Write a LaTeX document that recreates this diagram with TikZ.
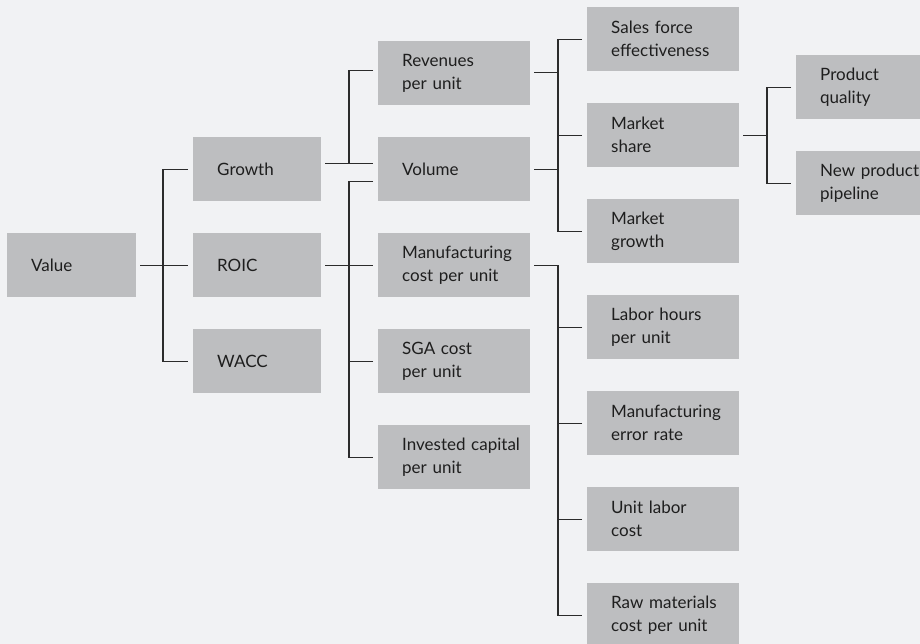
\documentclass[tikz,border=0pt]{standalone}
\usepackage{fontspec}
\setmainfont{Lato}
\definecolor{bg}{HTML}{F1F2F4}
\definecolor{boxgray}{HTML}{BDBEC0}
\definecolor{ink}{HTML}{1E1E1E}
\definecolor{linecol}{HTML}{2B2B2B}
\newcommand\lnx[1]{\mbox{#1}}
\begin{document}
\begin{tikzpicture}[x=1pt,y=-1pt,
  bx/.style={fill=boxgray, draw=none, anchor=north west, minimum height=64pt,
    inner xsep=24pt, inner ysep=0pt, align=left, text=ink,
    font=\fontsize{17}{23}\selectfont},
  bxs/.style={bx, text width=80pt},
  bxl/.style={bx, text width=104pt},
  conn/.style={draw=linecol, line width=1.3pt}]
\fill[bg] (0,0) rectangle (920,644);
\useasboundingbox (0,0) rectangle (920,644);
% level 0/1
\node[bx, text width=81pt] (value) at (7,233) {Value};
\node[bxs] (growth) at (193,137) {Growth};
\node[bxs] (roic) at (193,233) {ROIC};
\node[bxs] (wacc) at (193,329) {WACC};
% level 2
\node[bxl] (rev) at (378,41) {\lnx{Revenues}\\\lnx{per unit}};
\node[bxl] (vol) at (378,137) {Volume};
\node[bxl] (mfg) at (378,233) {\lnx{Manufacturing}\\\lnx{cost per unit}};
\node[bxl] (sga) at (378,329) {\lnx{SGA cost}\\\lnx{per unit}};
\node[bxl] (inv) at (378,425) {\lnx{Invested capital}\\\lnx{per unit}};
% level 3
\node[bxl] (sales) at (587,7) {\lnx{Sales force}\\\lnx{effectiveness}};
\node[bxl] (mshare) at (587,103) {\lnx{Market}\\\lnx{share}};
\node[bxl] (mgrowth) at (587,199) {\lnx{Market}\\\lnx{growth}};
\node[bxl] (labor) at (587,295) {\lnx{Labor hours}\\\lnx{per unit}};
\node[bxl] (mfgerr) at (587,391) {\lnx{Manufacturing}\\\lnx{error rate}};
\node[bxl] (unitlabor) at (587,487) {\lnx{Unit labor}\\\lnx{cost}};
\node[bxl] (raw) at (587,583) {\lnx{Raw materials}\\\lnx{cost per unit}};
% level 4
\node[bxl] (pq) at (796,55) {\lnx{Product}\\\lnx{quality}};
\node[bxl] (npp) at (796,151) {\lnx{New product}\\\lnx{pipeline}};
% connectors: value
\draw[conn] ([xshift=4pt]value.east) -- ([xshift=-5pt]roic.west);
\draw[conn] ([xshift=-5pt]growth.west) -- ++(-25,0) |- ([xshift=-5pt]wacc.west);
% growth
\draw[conn] ([shift={(4,-6)}]growth.east) -- ([shift={(-5,-6)}]vol.west);
\draw[conn] ([shift={(-5,-3)}]rev.west) -- ++(-24,0) -- ++(0,93);
% roic
\draw[conn] ([xshift=4pt]roic.east) -- ([xshift=-5pt]mfg.west);
\draw[conn] ([shift={(-5,12)}]vol.west) -- ++(-24,0) |- ([xshift=-5pt]inv.west);
\draw[conn] ([xshift=-5pt]sga.west) -- ++(-24,0);
% revenues & volume
\draw[conn] ([shift={(4,-1)}]rev.east) -- ++(24,0);
\draw[conn] ([xshift=4pt]vol.east) -- ++(24,0);
\draw[conn] ([xshift=-5pt]sales.west) -- ++(-24,0) |- ([xshift=-5pt]mgrowth.west);
\draw[conn] ([xshift=-5pt]mshare.west) -- ++(-24,0);
% manufacturing cost
\draw[conn] ([xshift=4pt]mfg.east) -| ([xshift=-29pt]raw.west) -- ([xshift=-5pt]raw.west);
\draw[conn] ([xshift=-5pt]labor.west) -- ++(-24,0);
\draw[conn] ([xshift=-5pt]mfgerr.west) -- ++(-24,0);
\draw[conn] ([xshift=-5pt]unitlabor.west) -- ++(-24,0);
% market share
\draw[conn] ([xshift=4pt]mshare.east) -- ++(24,0);
\draw[conn] ([xshift=-5pt]pq.west) -- ++(-24,0) |- ([xshift=-5pt]npp.west);
\end{tikzpicture}
\end{document}
